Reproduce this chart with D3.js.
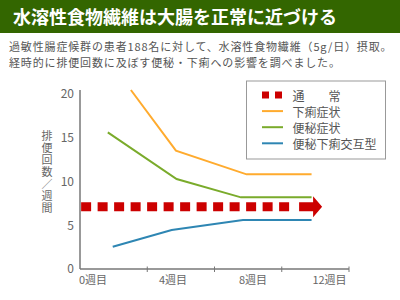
<!DOCTYPE html>
<meta charset="utf-8">

<head>
    <title>水溶性食物繊維は大腸を正常に近づける</title>
</head>

<style>
    body {
        margin: 0;
        background: #fff;
    }

    * {
        font-family: 'Noto Sans CJK JP', 'Noto Sans', sans-serif;
    }

    .title {
        font-size: 18px;
        font-weight: bold;
        fill: #fff;
    }

    .subtitle {
        font-size: 11px;
        letter-spacing: 0.85px;
        fill: #555;
    }

    .tick_text {
        fill: #666;
        font-size: 12px;
    }

    .legend_text {
        font-size: 12px;
        fill: #555;
        dominant-baseline: central;
    }
</style>

<body>
    <svg id="chart" width="400" height="300"></svg>

    <script src="https://d3js.org/d3.v7.min.js"></script>
    <script>
        // data (x in weeks, y in bowel movements / week)
        const titleText = "水溶性食物繊維は大腸を正常に近づける";
        const subtitleLines = [
            "過敏性腸症候群の患者188名に対して、水溶性食物繊維（5g/日）摂取。",
            "経時的に排便回数に及ぼす便秘・下痢への影響を調べました。"
        ];
        const yTicks = [0, 5, 10, 15, 20];
        const xTickMarks = [3, 6, 9, 12];
        const xLabels = ["0週目", "4週目", "8週目", "12週目"];
        const xLabelWeeks = [0.58, 4.15, 7.72, 11.13];
        const yAxisTitle = "排便回数／週間";

        const seriesNames = ["下痢症状", "便秘症状", "便秘下痢交互型"];
        const diarrheaWeeks = [2.27, 4.28, 7.43, 10.33];
        const diarrheaValues = [20.46, 13.52, 10.82, 10.82];
        const constipationWeeks = [1.24, 4.31, 7.18, 10.33];
        const constipationValues = [15.62, 10.29, 8.19, 8.19];
        const mixedWeeks = [1.46, 4.09, 7.27, 10.33];
        const mixedValues = [2.55, 4.46, 5.6, 5.6];

        const normalName = "通　　常";
        const normalValue = 7.12;
        const normalWeeks = [0.05, 10.8];

        const colors = {
            "下痢症状": "#ffab2e",
            "便秘症状": "#7aab2b",
            "便秘下痢交互型": "#2e86b3",
            "normal": "#cc0000"
        };

        const chart = d3.select("#chart");

        // header
        chart.append("rect")
            .attr("x", 0).attr("y", 0)
            .attr("width", 400).attr("height", 33)
            .style("fill", "#336600");
        chart.append("text")
            .attr("class", "title")
            .attr("x", 13).attr("y", 24)
            .text(titleText);

        chart.selectAll(".subtitle")
            .data(subtitleLines)
            .enter()
            .append("text")
            .attr("class", "subtitle")
            .attr("x", 9)
            .attr("y", (d, i) => 51 + i * 16)
            .text(d => d);

        // scales
        const xScale = d3.scaleLinear().domain([0, 12]).range([80, 349]);
        const yScale = d3.scaleLinear().domain([0, 20]).range([269, 94]);

        // axes
        const axisColor = "#777";
        chart.append("line")
            .attr("x1", 80).attr("x2", 80)
            .attr("y1", 90).attr("y2", yScale(0))
            .style("stroke", axisColor).style("stroke-width", 1.5);
        chart.append("line")
            .attr("x1", 80).attr("x2", xScale(12))
            .attr("y1", yScale(0)).attr("y2", yScale(0))
            .style("stroke", axisColor).style("stroke-width", 1.5);

        chart.selectAll(".xtick")
            .data(xTickMarks)
            .enter()
            .append("line")
            .attr("class", "xtick")
            .attr("x1", d => xScale(d)).attr("x2", d => xScale(d))
            .attr("y1", yScale(0) - 2.5).attr("y2", yScale(0) + 3)
            .style("stroke", axisColor).style("stroke-width", 1);

        chart.selectAll(".ylabel")
            .data(yTicks)
            .enter()
            .append("text")
            .attr("class", "tick_text")
            .attr("x", 74)
            .attr("y", d => yScale(d))
            .attr("dy", "0.36em")
            .attr("text-anchor", "end")
            .text(d => d);

        chart.selectAll(".xlabel")
            .data(xLabels)
            .enter()
            .append("text")
            .attr("class", "tick_text")
            .style("font-size", "11px")
            .attr("x", (d, i) => xScale(xLabelWeeks[i]))
            .attr("y", 284)
            .attr("text-anchor", "middle")
            .text(d => d);

        chart.append("text")
            .attr("x", 47)
            .attr("y", 130)
            .style("writing-mode", "vertical-rl")
            .style("font-size", "11px")
            .style("fill", "#666")
            .style("letter-spacing", "1px")
            .text(yAxisTitle);

        // normal level: dashed arrow
        const yNormal = yScale(normalValue);
        chart.append("line")
            .attr("x1", xScale(normalWeeks[0])).attr("x2", 292)
            .attr("y1", yNormal).attr("y2", yNormal)
            .style("stroke", colors.normal)
            .style("stroke-width", 9)
            .style("stroke-dasharray", "10,6.5");
        const arrowEnd = xScale(normalWeeks[1]);
        chart.append("path")
            .attr("d", "M" + (arrowEnd - 23) + "," + (yNormal - 4.5)
                + "H" + (arrowEnd - 9) + "V" + (yNormal - 10.5)
                + "L" + arrowEnd + "," + yNormal
                + "L" + (arrowEnd - 9) + "," + (yNormal + 10.5)
                + "V" + (yNormal + 4.5) + "H" + (arrowEnd - 23) + "Z")
            .style("fill", colors.normal);

        // lines
        const lineData = [
            { key: "下痢症状", weeks: diarrheaWeeks, values: diarrheaValues },
            { key: "便秘症状", weeks: constipationWeeks, values: constipationValues },
            { key: "便秘下痢交互型", weeks: mixedWeeks, values: mixedValues }
        ];
        const line = d3.line()
            .x(d => xScale(d[0]))
            .y(d => yScale(d[1]));

        chart.selectAll(".series")
            .data(lineData)
            .enter()
            .append("path")
            .attr("class", "series")
            .attr("d", d => line(d.weeks.map((w, i) => [w, d.values[i]])))
            .style("fill", "none")
            .style("stroke", d => colors[d.key])
            .style("stroke-width", 2);

        // legend
        const legend = chart.append("g");
        legend.append("rect")
            .attr("x", 246.5).attr("y", 81)
            .attr("width", 139).attr("height", 78)
            .style("fill", "#fff")
            .style("stroke", "#999")
            .style("stroke-width", 1);

        const legendRows = [normalName].concat(seriesNames);
        const rowY = (i) => 95 + i * 16.1;

        legend.selectAll(".legend_text")
            .data(legendRows)
            .enter()
            .append("text")
            .attr("class", "legend_text")
            .attr("x", 292.5)
            .attr("y", (d, i) => rowY(i))
            .text(d => d);

        legend.selectAll(".legend_sq")
            .data([0, 1])
            .enter()
            .append("rect")
            .attr("x", d => 262 + d * 13)
            .attr("y", rowY(0) - 3.5)
            .attr("width", 7).attr("height", 7)
            .style("fill", colors.normal);

        legend.selectAll(".legend_line")
            .data(seriesNames)
            .enter()
            .append("line")
            .attr("x1", 262).attr("x2", 283)
            .attr("y1", (d, i) => rowY(i + 1))
            .attr("y2", (d, i) => rowY(i + 1))
            .style("stroke", d => colors[d])
            .style("stroke-width", 2);
    </script>
</body>

</html>
